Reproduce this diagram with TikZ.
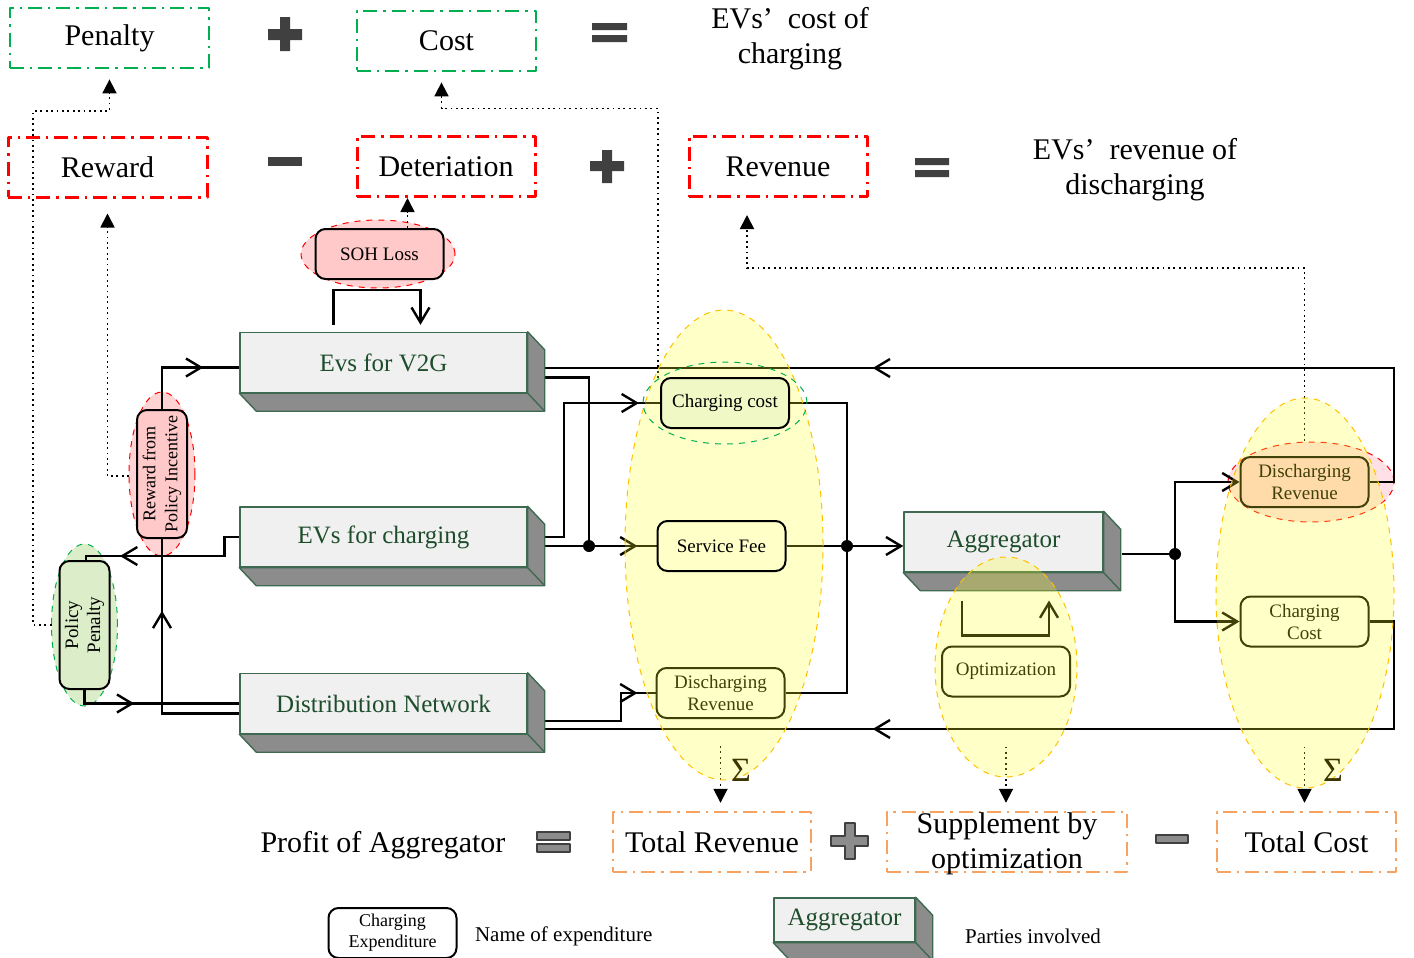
\documentclass[tikz,border=0pt]{standalone}
\usepackage{fontspec}
\setmainfont{Liberation Serif}
\usepackage{tikz}
\usetikzlibrary{arrows.meta,decorations.markings,backgrounds}

\definecolor{okgreen}{HTML}{00B050}
\definecolor{okred}{HTML}{FF0000}
\definecolor{okorange}{HTML}{F5A262}
\definecolor{slabedge}{HTML}{3F6A52}
\definecolor{slabtext}{HTML}{1E4D2B}
\definecolor{slabside}{HTML}{8C8C8C}
\definecolor{slabfront}{HTML}{F0F0F0}
\definecolor{zonefill}{HTML}{FFFF23}
\definecolor{zonebg}{HTML}{FFFFC8}
\definecolor{zoneedge}{HTML}{FFC000}
\definecolor{pinkfill}{HTML}{FFC9C9}
\definecolor{pinkblob}{HTML}{FFD3D3}
\definecolor{leaffill}{HTML}{DCEEC9}
\definecolor{drrfill}{HTML}{FFD0D8}
\definecolor{drrblob}{HTML}{FFE0E6}
\definecolor{ccfill}{HTML}{F0F8C6}
\definecolor{olivetext}{HTML}{3B3500}
\definecolor{opdark}{HTML}{404040}
\definecolor{opgray}{HTML}{8C8C8C}

\tikzset{midtip/.style={postaction={decorate,decoration={markings,
  mark=at position #1 with {\arrow{Straight Barb[length=7.5pt,width=9pt]}}}}}}

\newcommand{\extrude}[1]{%
  \filldraw[fill=slabside,draw=slabedge,line width=0.7pt] (#1.north east) -- ++(17,18)
    |- ([shift={(17,18)}]#1.south west) -- (#1.south west) -- (#1.south east) -- cycle;
  \draw[slabedge,line width=0.7pt] (#1.south east) -- ++(17,18);}

\begin{document}
\begin{tikzpicture}[x=0.5pt,y=-0.5pt,line join=round]
\tikzstyle{big}=[font=\fontsize{15}{17.5}\selectfont]
\tikzstyle{term}=[big,draw,line width=1.4pt,dash pattern=on 7pt off 3pt on 1.2pt off 3pt,minimum height=30pt,inner sep=0pt,align=center]
\tikzstyle{slab}=[draw=slabedge,fill=slabfront,line width=0.7pt,text=slabtext,minimum width=143.5pt,minimum height=30pt,inner sep=0pt,font=\fontsize{12.5}{15}\selectfont]
\tikzstyle{expbox}=[draw,rounded corners=5pt,line width=1pt,minimum width=64pt,minimum height=25pt,inner sep=1pt,align=center,font=\fontsize{9.5}{11}\selectfont]
\tikzstyle{blob}=[dashed,line width=0.5pt]
\tikzstyle{zone}=[blob,fill=zonefill,fill opacity=0.25,draw=zoneedge]
\tikzstyle{flow}=[line width=1.2pt]
\tikzstyle{flowend}=[flow,-{Straight Barb[length=7.5pt,width=9pt]}]
\tikzstyle{hint}=[line width=0.9pt,dash pattern=on 0.9pt off 1.8pt,-{Triangle[length=7pt,width=7pt]}]
\tikzstyle{oper}=[fill=opdark]
\tikzstyle{opergray}=[fill=opgray,draw=opdark,line width=0.6pt]
\useasboundingbox (0,0) rectangle (1414,958);

\node[term,draw=okgreen,minimum width=99.5pt] (pen) at (109.5,38) {Penalty};
\fill[oper] (280,17) rectangle (290,51) (268,29) rectangle (302,40);
\node[term,draw=okgreen,minimum width=89.5pt] (cost) at (446.5,41) {Cost};
\fill[oper] (592,23) rectangle (627,30) (592,35) rectangle (627,42);
\node[big,align=center] (evcost) at (790,39) {EVs’\hspace{.5em}cost of\\charging};

\node[term,draw=okred,line width=1.5pt,minimum width=99.5pt] (rew) at (107.5,167) {Reward};
\fill[oper] (268,157) rectangle (302,166);
\node[term,draw=okred,line width=1.5pt,minimum width=89pt] (det) at (446,166.5) {Deteriation};
\fill[oper] (602,150) rectangle (612,183) (590,161) rectangle (624,171);
\node[term,draw=okred,line width=1.5pt,minimum width=89pt] (rev) at (778,166.5) {Revenue};
\fill[oper] (915,158) rectangle (949,165) (915,170) rectangle (949,177);
\node[big,align=center] (evrev) at (1135,170) {EVs’\hspace{.5em}revenue of\\discharging};

\node[slab] (v2g) at (383.5,362.5) {Evs for V2G};
\extrude{v2g}
\node[slab] (evc) at (383.5,537) {EVs for charging};
\extrude{evc}
\node[slab] (dn) at (383.5,703.5) {Distribution Network};
\extrude{dn}
\node[slab,minimum width=99.5pt] (agg) at (1003.5,542) {Aggregator};
\extrude{agg}

\node[expbox,fill=pinkfill] (soh) at (379.5,254) {SOH Loss};
\node[expbox,fill=pinkfill,rotate=90,font=\fontsize{9}{11}\selectfont] (rpi) at (162,474) {Reward from\\Policy Incentive};
\node[expbox,fill=leaffill,rotate=90] (pp) at (84.5,625) {Policy\\Penalty};
\node[expbox] (drl) at (720.5,693) {Discharging\\Revenue};
\node[expbox] (opt) at (1006,671.5) {Optimization};
\node[expbox,fill=drrfill] (drr) at (1304.5,482) {Discharging\\Revenue};
\node[expbox] (ccr) at (1304.5,621.5) {Charging\\Cost};

\filldraw[zone] (724,545) ellipse [x radius=49.5pt,y radius=117.5pt];
\filldraw[zone] (1006,667) ellipse [x radius=35.5pt,y radius=55pt];
\filldraw[zone] (1305,593) ellipse [x radius=44.5pt,y radius=97.5pt];
\draw[blob,draw=okgreen] (725,403) ellipse [x radius=41pt,y radius=20.5pt];
\node[expbox,fill=ccfill] (cc) at (725,403) {Charging cost};
\node[expbox,fill=zonebg] (sf) at (721.5,546) {Service Fee};
\node[text=olivetext,font=\fontsize{17}{17}\selectfont] (sigl) at (741,770) {Σ};
\node[text=olivetext,font=\fontsize{17}{17}\selectfont] (sigr) at (1333,770) {Σ};

\node[big] (profit) at (383,845) {Profit of Aggregator};
\filldraw[opergray] (537,832) rectangle (570,840) (537,844) rectangle (570,852);
\node[term,draw=okorange,line width=1.2pt,minimum width=99pt] (tr) at (712,842) {Total Revenue};
\filldraw[opergray] (845,823) -- (855,823) -- (855,836) -- (868,836) -- (868,846) -- (855,846) -- (855,859) -- (845,859) -- (845,846) -- (831,846) -- (831,836) -- (845,836) -- cycle;
\node[term,draw=okorange,line width=1.2pt,minimum width=120pt,text depth=1pt] (sup) at (1007,842) {Supplement by\\optimization};
\filldraw[opergray] (1156,835) rectangle (1188,843);
\node[term,draw=okorange,line width=1.2pt,minimum width=89.5pt] (tc) at (1306.5,842) {Total Cost};

\node[expbox,fill=white,font=\fontsize{9}{10.5}\selectfont] (legexp) at (392.5,933) {Charging\\Expenditure};
\node[anchor=west,font=\fontsize{10.5}{12}\selectfont] (legexpname) at (468,936) {Name of expenditure};
\node[slab,minimum width=70.5pt,minimum height=22pt] (legslab) at (844.5,920) {Aggregator};
\extrude{legslab}
\node[anchor=west,font=\fontsize{10.5}{12}\selectfont] (legslabname) at (958,936) {Parties involved};

\begin{scope}[on background layer]
\filldraw[blob,draw=okred,fill=pinkblob] (378,254) ellipse [x radius=38.5pt,y radius=17pt];
\filldraw[blob,draw=okred,fill=pinkblob] (162,474) ellipse [x radius=16.5pt,y radius=41pt];
\filldraw[blob,draw=okgreen,fill=leaffill] (84.5,625) ellipse [x radius=16.5pt,y radius=40.5pt];
\filldraw[blob,draw=okred,fill=drrblob] (1311,482) ellipse [x radius=41.5pt,y radius=20pt];
\coordinate (j1) at (589,546);
\coordinate (j2) at (847,546);
\coordinate (j3) at (1175,554);
\draw[flow,midtip=-164pt] (drr.east) -| (1394,368) -- ([shift={(17,5.5)}]v2g.east);
\draw[flow,midtip=-164pt] (ccr.east) -| (1394,729) -- ([shift={(17,25.5)}]dn.east);
\draw[flow] ([shift={(17,15)}]v2g.east) -| (j1);
\draw[flow,midtip=-9.5pt] ([shift={(17,9)}]evc.east) -- (sf.west);
\draw[flow,midtip=-10.5pt] ([shift={(17,0)}]evc.east) -- ++(19,0) |- (cc.west);
\draw[flow] (cc.east) -| (j2);
\draw[flow] (drl.east) -| (j2);
\draw[flowend] (sf.east) -- (sf.east -| agg.west);
\draw[flow,midtip=-9pt] ([shift={(17,17.5)}]dn.east) -- ++(76,0) |- (drl.west);
\draw[flow] ([shift={(18,12)}]agg.east) -- (j3);
\draw[flowend] (j3) |- (drr.west);
\draw[flowend] (j3) |- (ccr.west);
\draw[flow,midtip=90pt,midtip=-18pt] ([yshift=-5pt]dn.west) -| (rpi.center) |- ([yshift=-2.5pt]v2g.west);
\draw[flow,midtip=-52.5pt] ([yshift=-32pt]pp.center) |- (dn.west);
\draw[flow,midtip=-19.5pt] (evc.west) -- ++(-15,0) |- (86,556) -- ([shift={(1.5,-64)}]pp.center);
\draw[flowend] ([shift={(-50,-7)}]v2g.north) -- ++(0,-35) -| ([shift={(37,-7)}]v2g.north);
\draw[flowend] ([shift={(-44,-45)}]opt.north) -- ++(0,35) -| ([shift={(43,-45)}]opt.north);
\fill (j1) circle (3pt) (j2) circle (3pt) (j3) circle (3pt);
\coordinate (sohtop) at ([xshift=14pt]soh.north);
\coordinate (cctap) at ([shift={(-67,-25)}]cc.center);
\draw[hint,shorten >=5pt] ([xshift=-16.5pt]pp.center) -| (33,111) -| (pen.south);
\draw[hint,shorten >=7.5pt] ([shift={(-33,2)}]rpi.center) -| (rew.south);
\draw[hint] (sohtop) -- (sohtop |- det.south);
\draw[hint,shorten >=5pt] (cctap) |- ([shift={(-5,36)}]cost.south) -- ([xshift=-2.5pt]cost.south);
\draw[hint,shorten >=8.5pt] ([yshift=7.5pt]drr.north) |- ([shift={(-31,70)}]rev.south) -- ([xshift=-15.5pt]rev.south);
\draw[hint,shorten >=4pt] ([yshift=-13.5pt]drl.south) -- (drl.south |- tr.north);
\draw[hint,shorten >=4pt] ([yshift=-24.5pt]opt.south) -- (opt.south |- sup.north);
\draw[hint,shorten >=4pt] ([yshift=-49.5pt]ccr.south) -- (ccr.south |- tc.north);
\end{scope}
\end{tikzpicture}
\end{document}
